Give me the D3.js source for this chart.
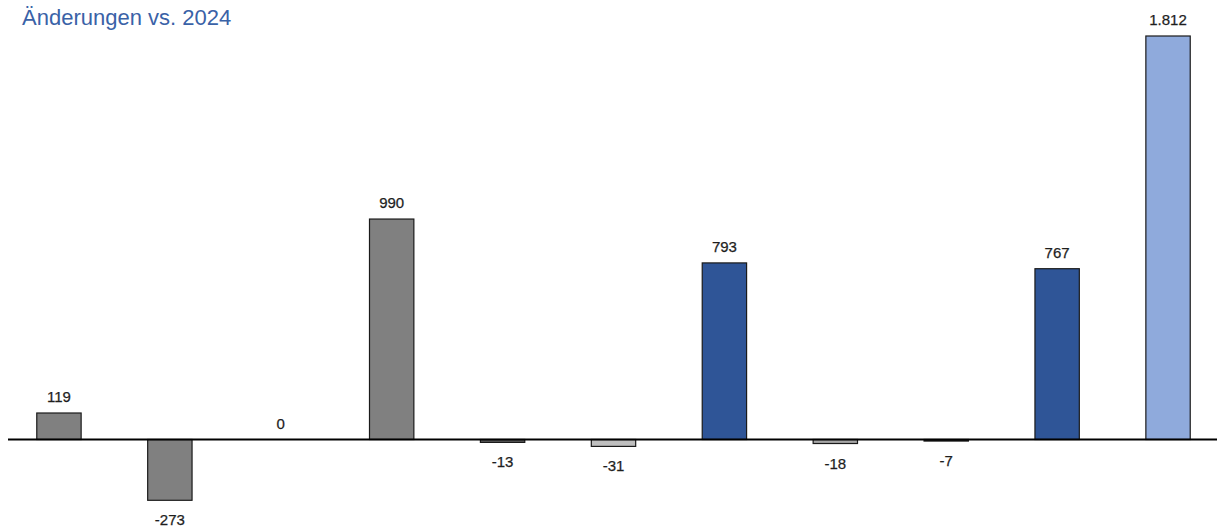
<!DOCTYPE html>
<html><head><meta charset="utf-8">
<script src="https://cdn.jsdelivr.net/npm/d3@7"></script>
<style>
html,body{margin:0;padding:0;background:#fff;}
svg{display:block;font-family:"Liberation Sans",Arial,sans-serif;}
</style></head>
<body>
<svg id="chart" width="1217" height="530"></svg>
<script>
const title = "Änderungen vs. 2024";
const categories = ["c1","c2","c3","c4","c5","c6","c7","c8","c9","c10","c11"];
const values = [119, -273, 0, 990, -13, -31, 793, -18, -7, 767, 1812];
const labels = ["119","-273","0","990","-13","-31","793","-18","-7","767","1.812"];
const colors = ["#808080","#808080","#808080","#808080","#5f5f5f","#bfbfbf","#2f5597","#a6a6a6","#1a1a1a","#2f5597","#8faadc"];

const svg = d3.select("#chart");
const x = d3.scaleBand().domain(categories).range([3.5, 1223.5]).paddingInner(0.6).paddingOuter(0.3);
const y = d3.scaleLinear().domain([0, 1812]).range([439.5, 36]);

svg.append("text").attr("x", 22).attr("y", 25).attr("font-size", 22)
  .attr("fill", "#3a62a7").text(title);

svg.selectAll("rect.bar").data(values).join("rect").attr("class","bar")
  .attr("x", (d,i) => x(categories[i]))
  .attr("width", x.bandwidth())
  .attr("y", d => y(Math.max(0,d)))
  .attr("height", d => Math.abs(y(d) - y(0)))
  .attr("fill", (d,i) => colors[i])
  .attr("stroke", "#1a1a1a").attr("stroke-width", 1.2);

svg.append("line").attr("x1", 8).attr("x2", 1217).attr("y1", y(0)).attr("y2", y(0))
  .attr("stroke", "#000").attr("stroke-width", 2.2);

svg.selectAll("text.lbl").data(values).join("text").attr("class","lbl")
  .attr("x", (d,i) => x(categories[i]) + x.bandwidth()/2)
  .attr("y", d => d >= 0 ? y(d) - 11 : y(d) + 25)
  .attr("text-anchor", "middle").attr("font-size", 15).attr("fill", "#1e1e1e")
  .attr("stroke", "#1e1e1e").attr("stroke-width", 0.25)
  .text((d,i) => labels[i]);
</script>
</body></html>
